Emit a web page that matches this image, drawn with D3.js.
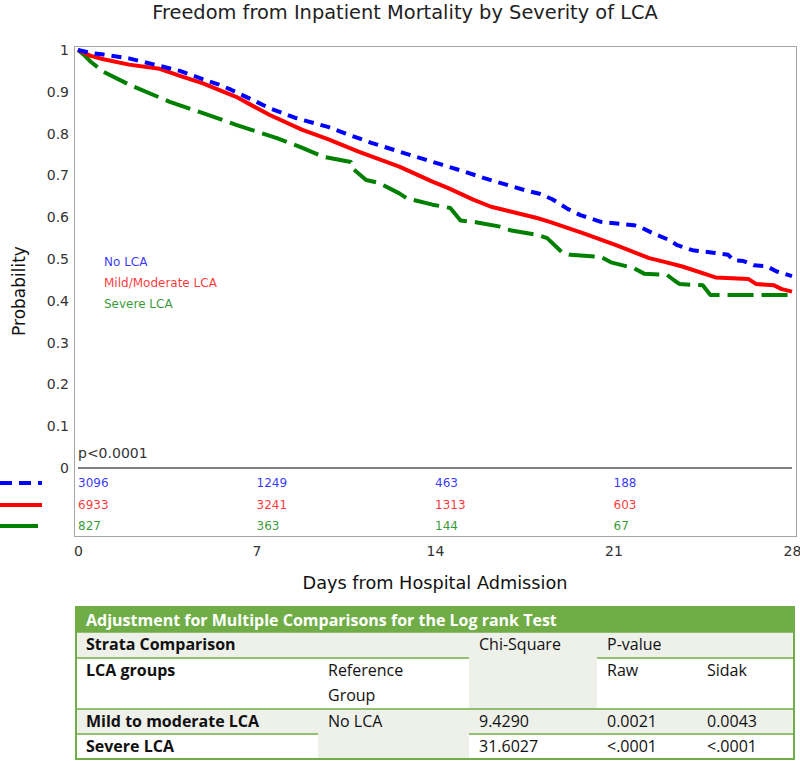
<!DOCTYPE html>
<html>
<head>
<meta charset="utf-8">
<script src="https://cdn.jsdelivr.net/npm/d3@7/dist/d3.min.js"></script>
<style>
  body { margin: 0; background: #fff; }
  svg { display: block; }
</style>
</head>
<body>
<svg id="chart" width="800" height="761"></svg>
<script>
// ---------------- DATA ----------------
const chartTitle = "Freedom from Inpatient Mortality by Severity of LCA";
const xTitle = "Days from Hospital Admission";
const yTitle = "Probability";
const pText = "p<0.0001";

const seriesNames = ["No LCA", "Mild/Moderate LCA", "Severe LCA"];
const seriesColors = ["#0000ff", "#ff0000", "#008000"];

// Kaplan-Meier estimates (days, survival probability)
const timeNo = [0,0.5,1,2,3,4,5,5.5,6,7,7.5,8.5,9.8,10.5,11.5,12.6,13.5,14.3,15.0,15.9,17.5,18.1,18.6,19.2,19.7,20.5,20.8,21.8,22.1,22.6,23.2,23.5,24.1,24.9,25.5,25.7,26.1,26.5,27.0,27.4,28];
const survNo = [1.000,0.993,0.989,0.980,0.965,0.950,0.928,0.918,0.905,0.876,0.861,0.838,0.816,0.800,0.778,0.757,0.740,0.725,0.712,0.694,0.665,0.656,0.643,0.620,0.605,0.589,0.587,0.581,0.575,0.560,0.545,0.533,0.521,0.515,0.510,0.497,0.495,0.485,0.483,0.470,0.459];

const timeMild = [0,0.5,1,2,3.2,4,4.9,6.2,7.5,8.8,9.8,11,12.6,13.9,14.5,15.5,16.2,17.2,18.0,18.5,19.8,21.1,22.4,23.0,23.7,25.0,26.3,26.6,27.3,27.6,28];
const survMild = [1.000,0.986,0.978,0.965,0.955,0.938,0.920,0.888,0.845,0.809,0.787,0.757,0.721,0.685,0.670,0.642,0.625,0.610,0.598,0.589,0.562,0.533,0.502,0.493,0.482,0.456,0.452,0.440,0.437,0.428,0.422];

const timeSevere = [0,0.2,0.5,1.0,2.04,3.6,4.9,6.2,7.8,8.8,9.6,10.7,10.8,11.3,11.8,12.6,12.9,13.9,14.6,15.0,15.6,16.5,17.0,18.0,18.4,19.0,19.3,20.5,20.9,21.8,22.2,23.1,23.4,23.6,24.5,24.8,28];
const survSevere = [1.000,0.990,0.972,0.948,0.916,0.876,0.849,0.821,0.789,0.766,0.745,0.732,0.715,0.689,0.682,0.657,0.645,0.630,0.622,0.592,0.588,0.578,0.568,0.558,0.550,0.515,0.510,0.505,0.492,0.478,0.465,0.462,0.448,0.440,0.437,0.414,0.414];

const riskTimes = [0, 7, 14, 21];
const riskNo = [3096, 1249, 463, 188];
const riskMild = [6933, 3241, 1313, 603];
const riskSevere = [827, 363, 144, 67];

const xTicks = [0, 7, 14, 21, 28];
const yTicks = [0, 0.1, 0.2, 0.3, 0.4, 0.5, 0.6, 0.7, 0.8, 0.9, 1];

// table
const tableTitle = "Adjustment for Multiple Comparisons for the Log rank Test";
const tableHead1 = ["Strata Comparison", "Chi-Square", "P-value"];
const tableHead2 = ["LCA groups", "Reference Group", "Raw", "Sidak"];
const rowGroups = ["Mild to moderate LCA", "Severe LCA"];
const refGroup = "No LCA";
const chiSquare = ["9.4290", "31.6027"];
const pRaw = ["0.0021", "<.0001"];
const pSidak = ["0.0043", "<.0001"];

// ---------------- DRAW ----------------
const svg = d3.select("#chart");
const chartFont = "DejaVu Sans, Verdana, sans-serif";
const tableFont = "'Open Sans', Lato, sans-serif";

const x = d3.scaleLinear().domain([0, 28]).range([78, 792]);
const y = d3.scaleLinear().domain([0, 1]).range([468, 50]);

// frame
svg.append("rect")
  .attr("x", 74.5).attr("y", 46.5).attr("width", 722).attr("height", 490)
  .attr("fill", "none").attr("stroke", "#a6a6a6").attr("stroke-width", 1);

// title
svg.append("text").attr("x", 405).attr("y", 19).attr("text-anchor", "middle")
  .attr("font-family", chartFont).attr("font-size", 19.4).attr("fill", "#222")
  .text(chartTitle);

// y axis
const yAxis = d3.axisLeft(y).tickValues(yTicks).tickSize(0).tickPadding(5)
  .tickFormat(d => (d === 0 ? "0" : d === 1 ? "1" : d3.format(".1f")(d)));
const gy = svg.append("g").attr("transform", "translate(74,0)").call(yAxis);
gy.select(".domain").remove();
gy.selectAll("text").attr("font-family", chartFont).attr("font-size", 14).attr("fill", "#333");

svg.append("text")
  .attr("transform", "translate(25,291) rotate(-90)")
  .attr("text-anchor", "middle")
  .attr("font-family", chartFont).attr("font-size", 17).attr("fill", "#111")
  .text(yTitle);

// x axis
const xAxis = d3.axisBottom(x).tickValues(xTicks).tickSize(0).tickPadding(10)
  .tickFormat(d3.format("d"));
const gx = svg.append("g").attr("transform", "translate(0,536)").call(xAxis);
gx.select(".domain").remove();
gx.selectAll("text").attr("font-family", chartFont).attr("font-size", 14).attr("fill", "#333");

svg.append("text").attr("x", 435).attr("y", 589).attr("text-anchor", "middle")
  .attr("font-family", chartFont).attr("font-size", 17.7).attr("fill", "#111")
  .text(xTitle);

// zero line
svg.append("line")
  .attr("x1", x(0)).attr("x2", x(28)).attr("y1", y(0)).attr("y2", y(0))
  .attr("stroke", "#555").attr("stroke-width", 1.5);

// p value
svg.append("text").attr("x", x(0)).attr("y", 458)
  .attr("font-family", chartFont).attr("font-size", 14).attr("fill", "#333")
  .text(pText);

// curves
const series = [
  { t: timeNo, s: survNo, dash: "10,7" },
  { t: timeMild, s: survMild, dash: null },
  { t: timeSevere, s: survSevere, dash: "26,8" }
];
const line = d3.line().x(d => x(d[0])).y(d => y(d[1])).curve(d3.curveLinear);

[2, 1, 0].forEach(i => {
  const sr = series[i];
  const pts = sr.t.map((t, j) => [t, sr.s[j]]);
  const p = svg.append("path").datum(pts)
    .attr("d", line)
    .attr("fill", "none")
    .attr("stroke", seriesColors[i])
    .attr("stroke-width", 4)
    .attr("stroke-linejoin", "round");
  if (sr.dash) p.attr("stroke-dasharray", sr.dash);
});

// legend labels inside plot
const legendY = [266, 287, 308];
seriesNames.forEach((n, i) => {
  svg.append("text").attr("x", 104).attr("y", legendY[i])
    .attr("font-family", chartFont).attr("font-size", 12)
    .attr("fill", seriesColors[i]).attr("fill-opacity", 0.8)
    .text(n);
});

// at-risk rows
const riskRows = [riskNo, riskMild, riskSevere];
const riskY = [487, 509, 530];
riskRows.forEach((row, i) => {
  svg.append("g").selectAll("text").data(row).join("text")
    .attr("x", (d, j) => x(riskTimes[j]))
    .attr("y", riskY[i])
    .attr("font-family", chartFont).attr("font-size", 12)
    .attr("fill", seriesColors[i]).attr("fill-opacity", 0.8)
    .text(d => d);
  const ls = svg.append("line")
    .attr("x1", 0).attr("x2", i === 2 ? 38 : 42)
    .attr("y1", riskY[i] - 4).attr("y2", riskY[i] - 4)
    .attr("stroke", seriesColors[i]).attr("stroke-width", 4);
  if (i === 0) ls.attr("stroke-dasharray", "12,7");
});

// ---------------- TABLE ----------------
const colX = [76, 318, 469, 597, 697, 794];
const rowY = [607, 632, 658, 709, 734, 759];
const green = "#70ad47";
const light = "#eef0ea";

const cells = [
  { c0: 0, c1: 2, r0: 1, r1: 2, text: [tableHead1[0]], bold: true, fill: light },
  { c0: 2, c1: 3, r0: 1, r1: 3, text: [tableHead1[1]], bold: false, fill: light },
  { c0: 3, c1: 5, r0: 1, r1: 2, text: [tableHead1[2]], bold: false, fill: light },
  { c0: 0, c1: 1, r0: 2, r1: 3, text: [tableHead2[0]], bold: true, fill: "#fff" },
  { c0: 1, c1: 2, r0: 2, r1: 3, text: tableHead2[1].split(" "), bold: false, fill: "#fff" },
  { c0: 3, c1: 4, r0: 2, r1: 3, text: [tableHead2[2]], bold: false, fill: "#fff" },
  { c0: 4, c1: 5, r0: 2, r1: 3, text: [tableHead2[3]], bold: false, fill: "#fff" },
  { c0: 1, c1: 2, r0: 3, r1: 5, text: [refGroup], bold: false, fill: light }
];
rowGroups.forEach((g, i) => {
  const f = i === 0 ? light : "#fff";
  cells.push({ c0: 0, c1: 1, r0: 3 + i, r1: 4 + i, text: [g], bold: true, fill: f });
  cells.push({ c0: 2, c1: 3, r0: 3 + i, r1: 4 + i, text: [chiSquare[i]], bold: false, fill: f });
  cells.push({ c0: 3, c1: 4, r0: 3 + i, r1: 4 + i, text: [pRaw[i]], bold: false, fill: f });
  cells.push({ c0: 4, c1: 5, r0: 3 + i, r1: 4 + i, text: [pSidak[i]], bold: false, fill: f });
});

const tg = svg.append("g");
tg.append("rect").attr("x", colX[0]).attr("y", rowY[0])
  .attr("width", colX[5] - colX[0]).attr("height", rowY[1] - rowY[0]).attr("fill", green);
tg.append("text").attr("x", colX[0] + 10).attr("y", rowY[0] + 19)
  .attr("font-family", tableFont).attr("font-size", 16).attr("font-weight", "bold")
  .attr("fill", "#fff").text(tableTitle);

cells.forEach(c => {
  const x0 = colX[c.c0], x1 = colX[c.c1], y0 = rowY[c.r0], y1 = rowY[c.r1];
  tg.append("rect").attr("x", x0).attr("y", y0).attr("width", x1 - x0).attr("height", y1 - y0)
    .attr("fill", c.fill);
  c.text.forEach((t, k) => {
    tg.append("text").attr("x", x0 + 10).attr("y", y0 + 18 + k * 25)
      .attr("font-family", tableFont).attr("font-size", 16)
      .attr("font-weight", c.bold ? "bold" : "normal").attr("fill", "#111")
      .text(t);
  });
});
cells.forEach(c => {
  tg.append("line").attr("x1", colX[c.c0]).attr("x2", colX[c.c1])
    .attr("y1", rowY[c.r1]).attr("y2", rowY[c.r1])
    .attr("stroke", green).attr("stroke-width", 1.5);
});
tg.append("line").attr("x1", colX[0]).attr("x2", colX[5])
  .attr("y1", rowY[1]).attr("y2", rowY[1]).attr("stroke", green).attr("stroke-width", 1.5);
tg.append("rect").attr("x", colX[0]).attr("y", rowY[0])
  .attr("width", colX[5] - colX[0]).attr("height", rowY[5] - rowY[0])
  .attr("fill", "none").attr("stroke", green).attr("stroke-width", 2);
</script>
</body>
</html>
